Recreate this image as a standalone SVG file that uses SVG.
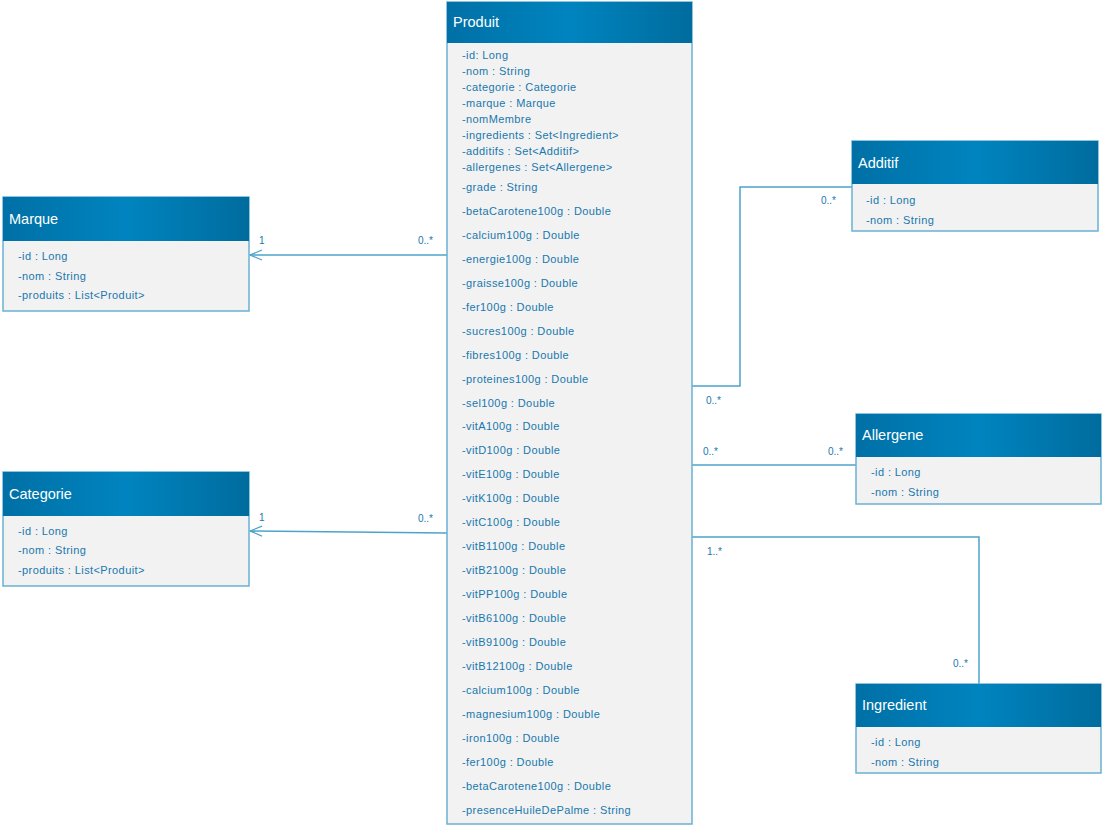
<svg xmlns="http://www.w3.org/2000/svg" width="1103" height="827" viewBox="0 0 1103 827">
<defs>
<linearGradient id="hdr" x1="0" y1="0" x2="1" y2="0">
<stop offset="0" stop-color="#0070a6"/>
<stop offset="0.5" stop-color="#0084bf"/>
<stop offset="1" stop-color="#006c9e"/>
</linearGradient>
<marker id="open" markerWidth="14" markerHeight="12" refX="13" refY="6" orient="auto" markerUnits="userSpaceOnUse">
<path d="M1,1 L13,6 L1,11" fill="none" stroke="#4ea3cb" stroke-width="1.2"/>
</marker>
</defs>
<style>
.body{fill:#f2f2f2;stroke:#6ab1d4;stroke-width:1.5}
.head{fill:url(#hdr)}
.title{font-family:"Liberation Sans",Arial,sans-serif;font-size:14.5px;fill:#ffffff}
.attr{font-family:"Liberation Sans",Arial,sans-serif;font-size:11px;letter-spacing:0.4px;fill:#1878ae}
.mult{font-family:"Liberation Sans",Arial,sans-serif;font-size:10px;fill:#1878ae}
.conn{fill:none;stroke:#4ea3cb;stroke-width:1.5}
</style>
<rect width="1103" height="827" fill="#ffffff"/>
<g id="connectors">
<line class="conn" x1="447" y1="255" x2="250" y2="255" marker-end="url(#open)"/>
<line class="conn" x1="447" y1="533" x2="250" y2="531" marker-end="url(#open)"/>
<polyline class="conn" points="692,386 740,386 740,187 852,187"/>
<line class="conn" x1="692" y1="465" x2="856" y2="465"/>
<polyline class="conn" points="692,537 979,537 979,684"/>
<text class="mult" x="259" y="244">1</text>
<text class="mult" x="418" y="244">0..*</text>
<text class="mult" x="259" y="521">1</text>
<text class="mult" x="418" y="522">0..*</text>
<text class="mult" x="821" y="204">0..*</text>
<text class="mult" x="706" y="404">0..*</text>
<text class="mult" x="703" y="455">0..*</text>
<text class="mult" x="828" y="455">0..*</text>
<text class="mult" x="707" y="555">1..*</text>
<text class="mult" x="953" y="667">0..*</text>
</g>
<g id="Produit">
<rect class="body" x="447" y="2" width="245" height="822"/>
<rect class="head" x="447" y="2" width="245" height="41"/>
<text class="title" x="453" y="27">Produit</text>
<text class="attr" x="462" y="59">-id: Long</text>
<text class="attr" x="462" y="75">-nom : String</text>
<text class="attr" x="462" y="91">-categorie : Categorie</text>
<text class="attr" x="462" y="107">-marque : Marque</text>
<text class="attr" x="462" y="123">-nomMembre</text>
<text class="attr" x="462" y="139">-ingredients : Set&lt;Ingredient&gt;</text>
<text class="attr" x="462" y="155">-additifs : Set&lt;Additif&gt;</text>
<text class="attr" x="462" y="171">-allergenes : Set&lt;Allergene&gt;</text>
<text class="attr" x="462" y="191">-grade : String</text>
<text class="attr" x="462" y="215">-betaCarotene100g : Double</text>
<text class="attr" x="462" y="239">-calcium100g : Double</text>
<text class="attr" x="462" y="263">-energie100g : Double</text>
<text class="attr" x="462" y="287">-graisse100g : Double</text>
<text class="attr" x="462" y="311">-fer100g : Double</text>
<text class="attr" x="462" y="335">-sucres100g : Double</text>
<text class="attr" x="462" y="359">-fibres100g : Double</text>
<text class="attr" x="462" y="383">-proteines100g : Double</text>
<text class="attr" x="462" y="407">-sel100g : Double</text>
<text class="attr" x="462" y="430">-vitA100g : Double</text>
<text class="attr" x="462" y="454">-vitD100g : Double</text>
<text class="attr" x="462" y="478">-vitE100g : Double</text>
<text class="attr" x="462" y="502">-vitK100g : Double</text>
<text class="attr" x="462" y="526">-vitC100g : Double</text>
<text class="attr" x="462" y="550">-vitB1100g : Double</text>
<text class="attr" x="462" y="574">-vitB2100g : Double</text>
<text class="attr" x="462" y="598">-vitPP100g : Double</text>
<text class="attr" x="462" y="622">-vitB6100g : Double</text>
<text class="attr" x="462" y="646">-vitB9100g : Double</text>
<text class="attr" x="462" y="670">-vitB12100g : Double</text>
<text class="attr" x="462" y="694">-calcium100g : Double</text>
<text class="attr" x="462" y="718">-magnesium100g : Double</text>
<text class="attr" x="462" y="742">-iron100g : Double</text>
<text class="attr" x="462" y="766">-fer100g : Double</text>
<text class="attr" x="462" y="790">-betaCarotene100g : Double</text>
<text class="attr" x="462" y="814">-presenceHuileDePalme : String</text>
</g>
<g id="Marque">
<rect class="body" x="3" y="197" width="246" height="114"/>
<rect class="head" x="3" y="197" width="246" height="44"/>
<text class="title" x="9" y="224">Marque</text>
<text class="attr" x="18" y="260">-id : Long</text>
<text class="attr" x="18" y="280">-nom : String</text>
<text class="attr" x="18" y="299">-produits : List&lt;Produit&gt;</text>
</g>
<g id="Categorie">
<rect class="body" x="3" y="472" width="246" height="114"/>
<rect class="head" x="3" y="472" width="246" height="44"/>
<text class="title" x="9" y="499">Categorie</text>
<text class="attr" x="18" y="535">-id : Long</text>
<text class="attr" x="18" y="554">-nom : String</text>
<text class="attr" x="18" y="574">-produits : List&lt;Produit&gt;</text>
</g>
<g id="Additif">
<rect class="body" x="852" y="141" width="246" height="90"/>
<rect class="head" x="852" y="141" width="246" height="43"/>
<text class="title" x="858" y="168">Additif</text>
<text class="attr" x="866" y="204">-id : Long</text>
<text class="attr" x="866" y="224">-nom : String</text>
</g>
<g id="Allergene">
<rect class="body" x="856" y="414" width="245" height="90"/>
<rect class="head" x="856" y="414" width="245" height="43"/>
<text class="title" x="862" y="440">Allergene</text>
<text class="attr" x="871" y="476">-id : Long</text>
<text class="attr" x="871" y="496">-nom : String</text>
</g>
<g id="Ingredient">
<rect class="body" x="856" y="684" width="245" height="89"/>
<rect class="head" x="856" y="684" width="245" height="43"/>
<text class="title" x="862" y="710">Ingredient</text>
<text class="attr" x="871" y="746">-id : Long</text>
<text class="attr" x="871" y="766">-nom : String</text>
</g>
</svg>
